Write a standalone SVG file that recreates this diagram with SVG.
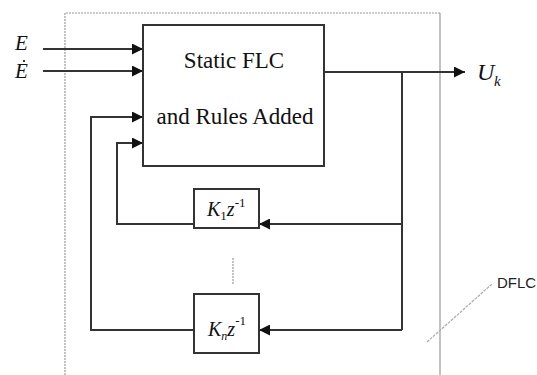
<svg xmlns="http://www.w3.org/2000/svg" width="537" height="375" viewBox="0 0 537 375">
<style>
.ln{stroke:#333;stroke-width:2;fill:none}
.bx{stroke:#333;stroke-width:2;fill:#fff}
.ser{font-family:'Liberation Serif',serif;fill:#111}
.it{font-style:italic}
.bound{stroke:#999;stroke-width:1.2;fill:none;stroke-dasharray:2 1}
</style>
<defs>
<marker id="ah" viewBox="0 0 10 10" refX="10" refY="5" markerWidth="11" markerHeight="11" markerUnits="userSpaceOnUse" orient="auto">
<path d="M0,0 L10,5 L0,10 z" fill="#111"/>
</marker>
</defs>
<rect width="537" height="375" fill="#fff"/>
<g id="boundary">
<path class="bound" d="M65,375 L65,13 L440,13"/>
<path d="M440,13 L440,375" stroke="#999" stroke-width="1.2" fill="none"/>
<path d="M427,342 L492,284" stroke="#aaa" stroke-width="1.2" stroke-dasharray="3 1"/>
<text x="497" y="288" font-family="'Liberation Sans', sans-serif" font-size="15" fill="#222">DFLC</text>
</g>
<g id="connectors">
<path class="ln" d="M43,49 L143,49" marker-end="url(#ah)"/>
<path class="ln" d="M43,71 L143,71" marker-end="url(#ah)"/>
<path class="ln" d="M324,72 L465,72" marker-end="url(#ah)"/>
<path class="ln" d="M402,72 L402,330"/>
<path class="ln" d="M402,224 L259,224" marker-end="url(#ah)"/>
<path class="ln" d="M402,330 L259,330" marker-end="url(#ah)"/>
<path class="ln" d="M194,224 L117,224 L117,143 L143,143" marker-end="url(#ah)"/>
<path class="ln" d="M194,330 L91,330 L91,117 L143,117" marker-end="url(#ah)"/>
<path d="M233,258 L233,284" stroke="#999" stroke-width="1.2" stroke-dasharray="2 1"/>
</g>
<g id="input-labels">
<text class="ser it" font-family="'Liberation Serif', serif" x="15" y="50" font-size="21">E</text>
<text class="ser it" font-family="'Liberation Serif', serif" x="15" y="78" font-size="21">E</text>
<circle cx="24" cy="61" r="1.1" fill="#111"/>
<text class="ser it" font-family="'Liberation Serif', serif" x="477" y="80" font-size="24">U</text>
<text class="ser it" font-family="'Liberation Serif', serif" x="494" y="86" font-size="15">k</text>
</g>
<g id="flc">
<rect class="bx" x="143" y="25" width="181" height="141"/>
<text class="ser" font-family="'Liberation Serif', serif" x="234" y="68" font-size="23" text-anchor="middle">Static FLC</text>
<text class="ser" font-family="'Liberation Serif', serif" x="235" y="124" font-size="23" text-anchor="middle">and Rules Added</text>
</g>
<g id="k1">
<rect class="bx" x="194" y="189" width="65" height="39"/>
<text class="ser" font-family="'Liberation Serif', serif" x="207" y="216" font-size="20"><tspan class="it">K</tspan><tspan font-size="13" dy="4">1</tspan><tspan class="it" dy="-4">z</tspan><tspan font-size="13" dy="-9">-1</tspan></text>
</g>
<g id="kn">
<rect class="bx" x="194" y="294" width="65" height="59"/>
<text class="ser" font-family="'Liberation Serif', serif" x="208" y="336" font-size="20"><tspan class="it">K</tspan><tspan class="it" font-size="12" dy="4">n</tspan><tspan class="it" dy="-4">z</tspan><tspan font-size="13" dy="-11">-1</tspan></text>
</g>
</svg>
